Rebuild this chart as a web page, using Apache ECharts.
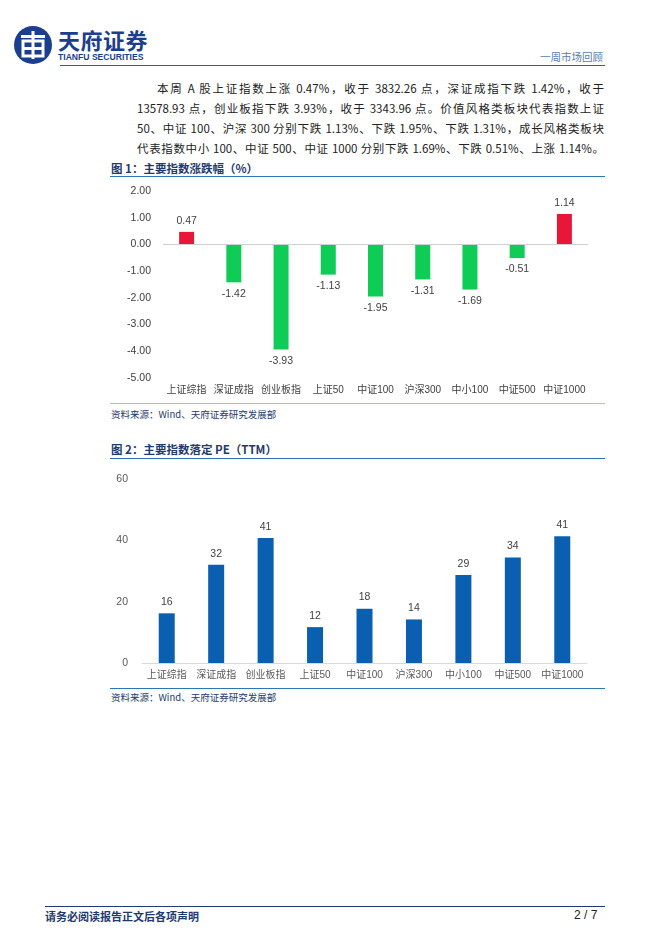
<!DOCTYPE html>
<html>
<head>
<meta charset="utf-8">
<script src="https://cdn.jsdelivr.net/npm/echarts@6/dist/echarts.min.js"></script>
<style>
  body { margin: 0; width: 662px; height: 936px; background: #fff; position: relative; overflow: hidden;
         font-family: "Noto Sans CJK SC", "Liberation Sans", sans-serif; }
  .abs { position: absolute; }
  .rule { position: absolute; height: 0; }
  .para div { text-align: justify; text-align-last: justify; white-space: nowrap; height: 20px; line-height: 20px; }
  .figtitle { font-size: 11.5px; font-weight: bold; color: #1F3A6E; }
  .source { font-size: 9.5px; color: #1F3A6E; }
</style>
</head>
<body>
<!-- header -->
<svg class="abs" style="left:13px;top:25px" width="40" height="40" viewBox="0 0 40 40">
  <circle cx="20" cy="20" r="19" fill="#1B3E8E"/>
  <rect x="8" y="10" width="24" height="3" fill="#fff"/>
  <rect x="18.5" y="6" width="3" height="28" fill="#fff"/>
  <rect x="10" y="16" width="20" height="15" fill="none" stroke="#fff" stroke-width="3"/>
  <rect x="10" y="22" width="20" height="3" fill="#fff"/>
</svg>
<div class="abs" style="left:58px;top:26px;font-size:22px;font-weight:bold;color:#1B3E8E;letter-spacing:0.5px;line-height:26px">天府证券</div>
<div class="abs" style="left:58px;top:52px;font-size:8.6px;font-weight:bold;color:#1B3E8E;line-height:10px;font-family:'Liberation Sans',sans-serif">TIANFU SECURITIES</div>
<div class="abs" style="left:540px;top:50px;font-size:10.5px;color:#5B7DB1;line-height:14px">一周市场回顾</div>
<div class="rule" style="left:60px;top:65px;width:545px;border-top:1.5px solid #2E5C9E"></div>

<div class="abs para" style="left:137px;top:78px;width:467px;font-size:11.5px;color:#222">
  <div style="padding-left:20px">本周 A 股上证指数上涨 0.47%，收于 3832.26 点，深证成指下跌 1.42%，收于</div>
  <div>13578.93 点，创业板指下跌 3.93%，收于 3343.96 点。价值风格类板块代表指数上证</div>
  <div>50、中证 100、沪深 300 分别下跌 1.13%、下跌 1.95%、下跌 1.31%，成长风格类板块</div>
  <div>代表指数中小 100、中证 500、中证 1000 分别下跌 1.69%、下跌 0.51%、上涨 1.14%。</div>
</div>

<!-- figure 1 -->
<div class="abs figtitle" style="left:111px;top:160px;line-height:16px">图 1：主要指数涨跌幅（%）</div>
<div class="rule" style="left:110px;top:176px;width:495px;border-top:1px solid #2E75B6"></div>
<div id="chart1" class="abs" style="left:100px;top:176px;width:510px;height:226px"></div>
<div class="rule" style="left:110px;top:403px;width:495px;border-top:1px solid #9DC3E6"></div>
<div class="abs source" style="left:111px;top:407px;line-height:14px">资料来源：Wind、天府证券研究发展部</div>

<!-- figure 2 -->
<div class="abs figtitle" style="left:111px;top:441px;line-height:16px">图 2：主要指数落定 PE（TTM）</div>
<div class="rule" style="left:110px;top:458px;width:495px;border-top:1px solid #2E75B6"></div>
<div id="chart2" class="abs" style="left:100px;top:460px;width:510px;height:226px"></div>
<div class="rule" style="left:110px;top:688px;width:495px;border-top:1px solid #2E75B6"></div>
<div class="abs source" style="left:111px;top:690px;line-height:14px">资料来源：Wind、天府证券研究发展部</div>

<!-- footer -->
<div class="rule" style="left:45px;top:906px;width:560px;border-top:1px solid #1F3A6E"></div>
<div class="abs" style="left:45px;top:909px;font-size:11px;font-weight:bold;color:#1F3A6E;line-height:15px">请务必阅读报告正文后各项声明</div>
<div class="abs" style="left:574px;top:908px;font-size:12px;color:#222;line-height:15px;font-family:'Liberation Sans',sans-serif">2 / 7</div>

<script>
const categories = ['上证综指', '深证成指', '创业板指', '上证50', '中证100', '沪深300', '中小100', '中证500', '中证1000']
// 周涨跌幅 (%)
const weeklyChange = [0.47, -1.42, -3.93, -1.13, -1.95, -1.31, -1.69, -0.51, 1.14]
// 落定 PE (TTM)
const peTTM = [16.2, 32.0, 40.8, 11.7, 17.7, 14.2, 28.7, 34.4, 41.3]

const numFont = '"Liberation Sans", "Noto Sans CJK SC", sans-serif'
const upColor = '#E8173A'
const downColor = '#0ECC55'

const chart1 = echarts.init(document.getElementById('chart1'))
chart1.setOption({
    animation: false,
    grid: { left: 63, top: 15, width: 425, height: 187 },
    xAxis: {
        type: 'category',
        data: categories,
        axisLine: { show: false },
        axisTick: { show: false },
        axisLabel: { interval: 0, color: '#404040', fontSize: 10, margin: 7, fontFamily: numFont }
    },
    yAxis: {
        type: 'value',
        min: -5,
        max: 2,
        interval: 1,
        splitLine: { show: false },
        axisLine: { show: false },
        axisTick: { show: false },
        axisLabel: {
            color: '#404040',
            fontSize: 10.5,
            margin: 12,
            fontFamily: numFont,
            formatter: v => v.toFixed(2)
        }
    },
    series: [{
        type: 'bar',
        barWidth: 15,
        data: weeklyChange.map(v => ({
            value: v,
            itemStyle: { color: v >= 0 ? upColor : downColor },
            label: { position: v >= 0 ? 'top' : 'bottom' }
        })),
        label: {
            show: true,
            color: '#404040',
            fontSize: 10.5,
            distance: 6,
            fontFamily: numFont,
            formatter: p => p.value.toFixed(2)
        },
        markLine: {
            silent: true,
            symbol: 'none',
            label: { show: false },
            lineStyle: { color: '#D0D0D0', width: 1, type: 'solid' },
            data: [{ yAxis: 0 }]
        }
    }]
})

const chart2 = echarts.init(document.getElementById('chart2'))
chart2.setOption({
    animation: false,
    grid: { left: 42, top: 19, width: 445, height: 184 },
    xAxis: {
        type: 'category',
        data: categories,
        axisLine: { show: true, lineStyle: { color: '#D9D9D9' } },
        axisTick: { show: false },
        axisLabel: { interval: 0, color: '#595959', fontSize: 10, margin: 7, fontFamily: numFont }
    },
    yAxis: {
        type: 'value',
        min: 0,
        max: 60,
        interval: 20,
        splitLine: { show: false },
        axisLine: { show: false },
        axisTick: { show: false },
        axisLabel: { color: '#595959', fontSize: 10.5, margin: 14, fontFamily: numFont }
    },
    series: [{
        type: 'bar',
        barWidth: 16,
        data: peTTM,
        itemStyle: { color: '#0B5FB0' },
        label: {
            show: true,
            position: 'top',
            color: '#404040',
            fontSize: 10.5,
            distance: 6,
            fontFamily: numFont,
            formatter: p => p.value.toFixed(0)
        }
    }]
})
</script>
</body>
</html>
